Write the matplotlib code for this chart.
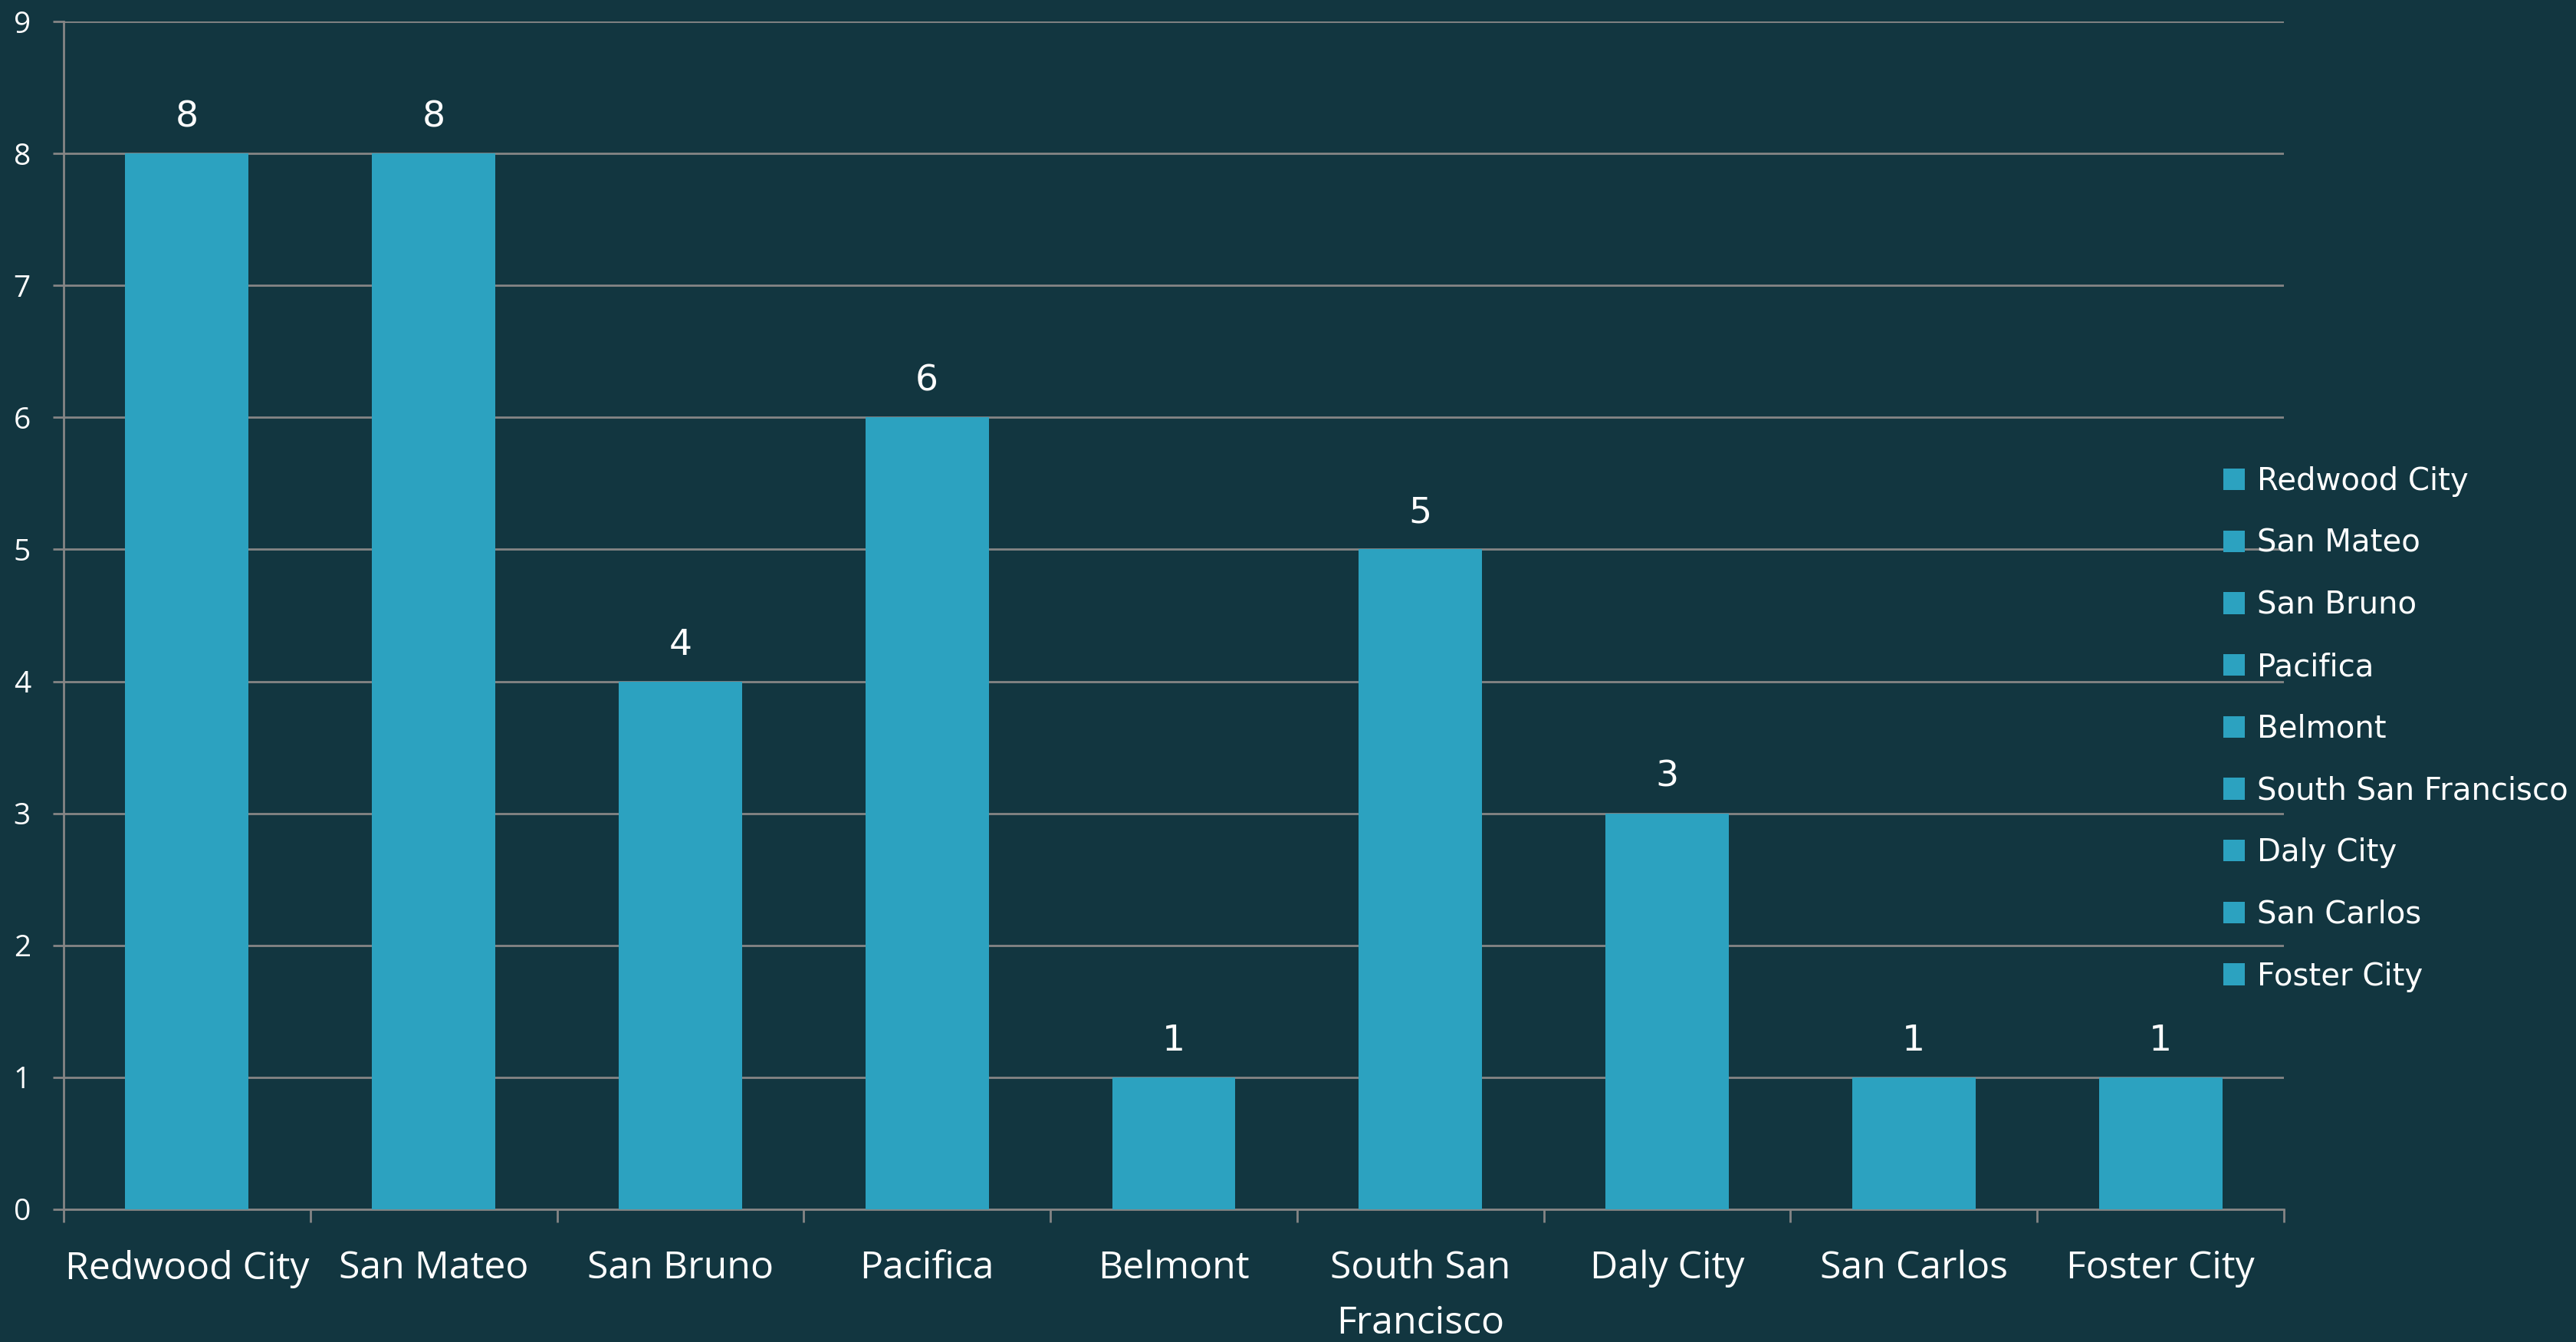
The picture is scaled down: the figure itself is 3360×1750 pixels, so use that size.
import matplotlib
matplotlib.use("Agg")
import matplotlib.pyplot as plt
import numpy as np

# data
cities = ["Redwood City", "San Mateo", "San Bruno", "Pacifica", "Belmont",
          "South San Francisco", "Daly City", "San Carlos", "Foster City"]
tick_labels = ["Redwood City", "San Mateo", "San Bruno", "Pacifica", "Belmont",
               "South San\nFrancisco", "Daly City", "San Carlos", "Foster City"]
counts = [8, 8, 4, 6, 1, 5, 3, 1, 1]

bg = "#123640"
bar_color = "#2CA2C0"
grid_color = "#858585"
axis_font = ["Open Sans", "DejaVu Sans"]

fig = plt.figure(figsize=(33.6, 17.5), dpi=100, facecolor=bg)
ax = fig.add_axes([0.0247, 0.0989, 0.8619, 0.8851])
ax.set_facecolor(bg)

x = np.arange(len(cities))
bars = ax.bar(x, counts, width=0.5, color=bar_color, label=cities, zorder=3)

# value labels above bars
for xi, v in zip(x, counts):
    ax.annotate(str(v), (xi, v), xytext=(0, 34), textcoords="offset points",
                ha="center", va="center", color="white", fontsize=34,
                family="DejaVu Sans")

ax.set_xlim(-0.5, len(cities) - 0.5)
ax.set_ylim(0, 9)
ax.set_yticks(range(0, 10))
ax.yaxis.grid(True, color=grid_color, linewidth=2, zorder=0)
ax.set_axisbelow(True)

# boundary ticks on x, labels centered under bars
ax.set_xticks(np.arange(-0.5, len(cities), 1.0))
ax.set_xticklabels([])
ax.set_xticks(x, minor=True)
ax.set_xticklabels(tick_labels, minor=True, linespacing=1.6)
ax.tick_params(axis="x", which="major", length=12, width=2, color=grid_color,
               direction="out")
ax.tick_params(axis="x", which="minor", length=0, pad=38, labelsize=36,
               labelcolor="white")
ax.tick_params(axis="y", length=10, width=2, color=grid_color, pad=21,
               labelsize=28, labelcolor="white")
for lab in ax.get_xticklabels(minor=True) + ax.get_yticklabels():
    lab.set_family(axis_font)

for side in ["top", "right"]:
    ax.spines[side].set_visible(False)
for side in ["left", "bottom"]:
    ax.spines[side].set_color(grid_color)
    ax.spines[side].set_linewidth(2)

leg = fig.legend(loc="center left", bbox_to_anchor=(0.863, 0.4566),
                 frameon=False, fontsize=29, handlelength=0.7, handleheight=0.7,
                 handletextpad=0.4, labelspacing=1.01, borderpad=0,
                 borderaxespad=0, labelcolor="white")

fig.savefig("out.png", dpi=100, facecolor=bg)
